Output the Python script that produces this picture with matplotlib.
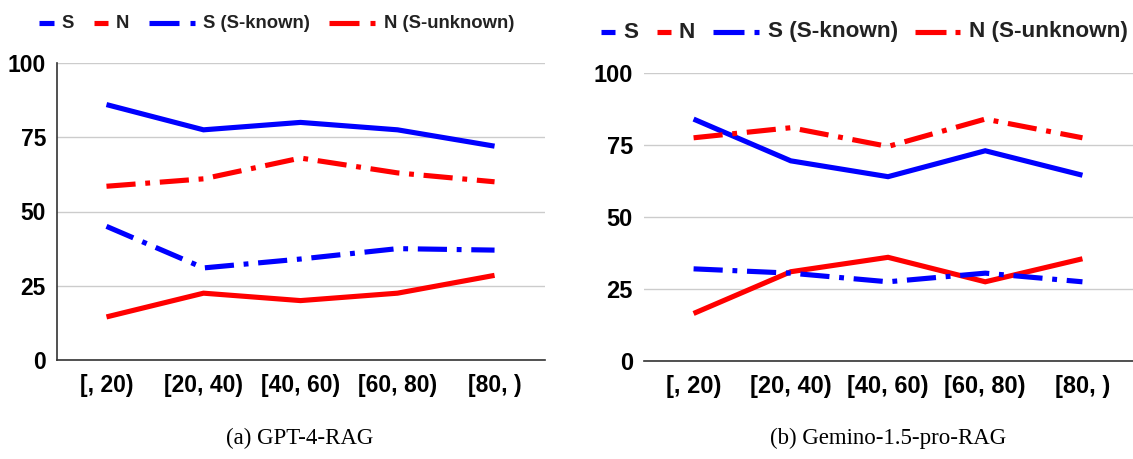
import matplotlib
matplotlib.use("Agg")
import matplotlib.pyplot as plt
from matplotlib.lines import Line2D

plt.rcParams['font.family'] = ['Liberation Sans', 'DejaVu Sans']
plt.rcParams['lines.scale_dashes'] = False

categorias = ["[, 20)", "[20, 40)", "[40, 60)", "[60, 80)", "[80, )"]
yticks = [0, 25, 50, 75, 100]

# GPT-4-RAG
gpt_s = [86, 77.5, 80, 77.5, 72]
gpt_n = [14.5, 22.5, 20, 22.5, 28.5]
gpt_s_known = [45, 31, 34, 37.5, 37]
gpt_n_unknown = [58.5, 61, 68, 63, 60]

# Gemino-1.5-pro-RAG
gem_s = [84, 69.5, 64, 73, 64.5]
gem_n = [16.5, 31, 36, 27.5, 35.5]
gem_s_known = [32, 30.5, 27.5, 30.5, 27.5]
gem_n_unknown = [77.5, 81, 74.5, 84, 77.5]

AZUL = "#0000ff"
ROJO = "#ff0000"
GRIS = "#cccccc"
DASHDOT = (0, (21, 7, 3.5, 7))
LW = 3.7

W, H = 1133, 459
fig = plt.figure(figsize=(W / 100, H / 100), dpi=100)


def px(x, y):
    return x / W, 1 - y / H


def dibujar_panel(rect, s, n, sk, nu, fs, spine_izq, caption, cap_x):
    ax = fig.add_axes(rect)
    x = range(len(categorias))
    ax.plot(x, s, color=AZUL, lw=LW, solid_capstyle="butt", solid_joinstyle="miter", zorder=3)
    ax.plot(x, n, color=ROJO, lw=LW, solid_capstyle="butt", solid_joinstyle="miter", zorder=3)
    ax.plot(x, sk, color=AZUL, lw=LW, linestyle=DASHDOT, dash_capstyle="butt", zorder=3)
    ax.plot(x, nu, color=ROJO, lw=LW, linestyle=DASHDOT, dash_capstyle="butt", zorder=3)
    ax.set_xlim(-0.51, 4.52)
    ax.set_ylim(0, 100)
    ax.set_yticks(yticks)
    ax.set_xticks(list(x))
    ax.set_xticklabels(categorias, fontsize=fs, fontweight="bold")
    ax.set_yticklabels([str(v) for v in yticks], fontsize=fs, fontweight="bold")
    ax.tick_params(length=0)
    ax.tick_params(axis="y", pad=8)
    ax.tick_params(axis="x", pad=10)
    ax.grid(axis="y", color=GRIS, lw=1)
    ax.set_axisbelow(True)
    for lado in ["top", "right"]:
        ax.spines[lado].set_visible(False)
    ax.spines["bottom"].set_color("#333333")
    ax.spines["bottom"].set_linewidth(1.2)
    ax.spines["bottom"].set_zorder(4)
    if spine_izq:
        ax.spines["left"].set_color("#333333")
        ax.spines["left"].set_linewidth(1.2)
    else:
        ax.spines["left"].set_visible(False)
    fig.text(*px(cap_x, 438), caption, family="Liberation Serif", fontsize=16.5,
             ha="center", va="center")
    return ax


def leyenda(y, entradas, fs):
    # entradas: (color, dash, punto, texto_x, texto)
    yy = 1 - y / H
    for color, dash, punto, tx, texto in entradas:
        fig.add_artist(Line2D([dash[0] / W, dash[1] / W], [yy, yy], color=color,
                              lw=LW, solid_capstyle="butt", transform=fig.transFigure))
        if punto:
            fig.add_artist(Line2D([punto[0] / W, punto[1] / W], [yy, yy], color=color,
                                  lw=LW, solid_capstyle="butt", transform=fig.transFigure))
        fig.text(tx / W, yy, texto, fontsize=fs, fontweight="bold", color="#222222",
                 ha="left", va="center")


# panel (a)
dibujar_panel([57 / W, 1 - 360 / H, (545 - 57) / W, (360 - 63) / H],
              gpt_s, gpt_n, gpt_s_known, gpt_n_unknown, 16.5, True,
              "(a) GPT-4-RAG", 300)
leyenda(23, [
    (AZUL, (39, 54), None, 61, "S"),
    (ROJO, (94, 108), None, 116, "N"),
    (AZUL, (149, 179), (190, 195), 203, "S (S-known)"),
    (ROJO, (329, 359), (370, 375), 384, "N (S-unknown)"),
], 13.3)

# panel (b)
dibujar_panel([644 / W, 1 - 361 / H, (1133 - 644) / W, (361 - 73) / H],
              gem_s, gem_n, gem_s_known, gem_n_unknown, 17, False,
              "(b) Gemino-1.5-pro-RAG", 888)
leyenda(32, [
    (AZUL, (601, 615), None, 623, "S"),
    (ROJO, (657, 671), None, 679, "N"),
    (AZUL, (713, 744), (754, 759), 768, "S (S-known)"),
    (ROJO, (915, 946), (955, 960), 969, "N (S-unknown)"),
], 16.2)

fig.savefig("out.png", dpi=100)
